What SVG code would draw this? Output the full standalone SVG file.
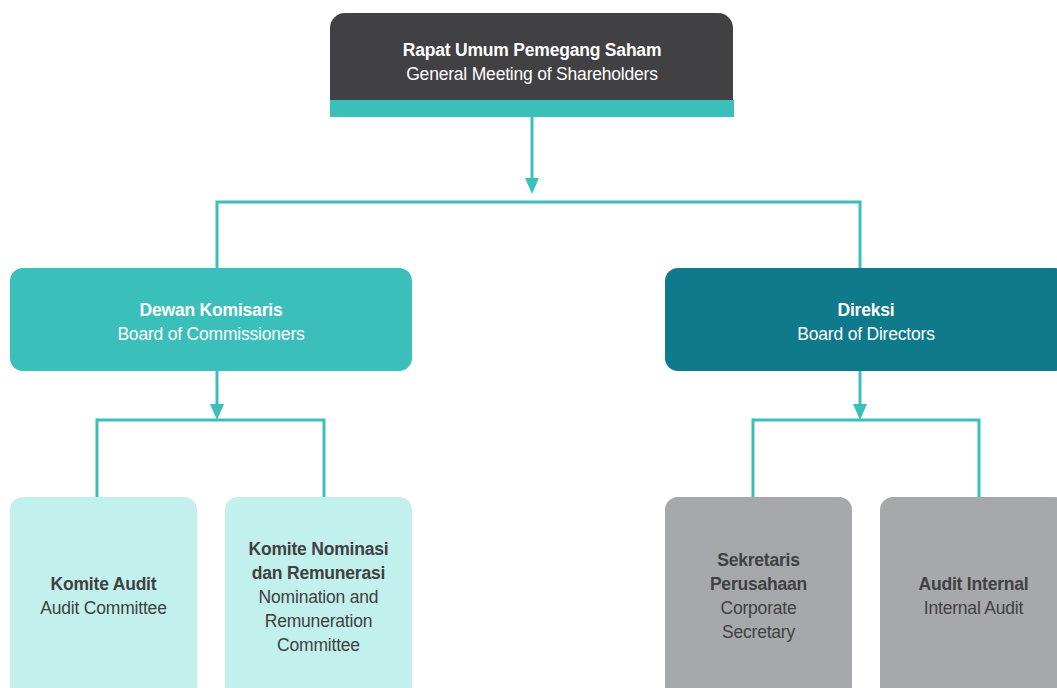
<svg xmlns="http://www.w3.org/2000/svg" width="1057" height="688" viewBox="0 0 1057 688">
  <defs>
    <style>
      text { font-family: "Liberation Sans", Arial, sans-serif; font-size: 17.5px; text-anchor: middle; letter-spacing: -0.2px; }
      .b { font-weight: bold; }
      .light { fill: #ffffff; }
      .darktxt { fill: #414042; }
      .conn { fill: none; stroke: #3bbfbb; stroke-width: 3; }
      .head { fill: #3bbfbb; }
    </style>
  </defs>
  <rect width="1057" height="688" fill="#ffffff"/>

  <!-- connectors -->
  <g id="connectors">
    <path class="conn" d="M532,117 V178"/>
    <path class="head" d="M525,178 L539,178 L532,194 Z"/>
    <path class="conn" d="M217,268 V202 H860 V268"/>
    <path class="conn" d="M217,371 V404"/>
    <path class="head" d="M210,404 L224,404 L217,420 Z"/>
    <path class="conn" d="M97,497 V420 H324 V497"/>
    <path class="conn" d="M860,371 V404"/>
    <path class="head" d="M853,404 L867,404 L860,420 Z"/>
    <path class="conn" d="M753,497 V420 H979 V497"/>
  </g>

  <!-- general meeting of shareholders -->
  <g id="rups">
    <path d="M345,13 H718 A15,15 0 0 1 733,28 V100 H330 V28 A15,15 0 0 1 345,13 Z" fill="#414042"/>
    <rect x="330" y="100" width="404" height="17" fill="#3bbfbb"/>
    <text class="b light" x="532" y="56">Rapat Umum Pemegang Saham</text>
    <text class="light" x="532" y="80">General Meeting of Shareholders</text>
  </g>

  <!-- board of commissioners -->
  <g id="dewan-komisaris">
    <rect x="10" y="268" width="402" height="103" rx="13" fill="#3bbfbb"/>
    <text class="b light" x="211" y="316">Dewan Komisaris</text>
    <text class="light" x="211" y="340">Board of Commissioners</text>
  </g>

  <!-- board of directors -->
  <g id="direksi">
    <rect x="665" y="268" width="402" height="103" rx="13" fill="#0e7a8c"/>
    <text class="b light" x="866" y="316">Direksi</text>
    <text class="light" x="866" y="340">Board of Directors</text>
  </g>

  <!-- audit committee -->
  <g id="komite-audit">
    <rect x="10" y="497" width="187" height="210" rx="13" fill="#c2f0ec"/>
    <text class="b darktxt" x="103.5" y="590">Komite Audit</text>
    <text class="darktxt" x="103.5" y="614">Audit Committee</text>
  </g>

  <!-- nomination and remuneration committee -->
  <g id="komite-nominasi">
    <rect x="225" y="497" width="187" height="210" rx="13" fill="#c2f0ec"/>
    <text class="b darktxt" x="318.5" y="555">Komite Nominasi</text>
    <text class="b darktxt" x="318.5" y="579">dan Remunerasi</text>
    <text class="darktxt" x="318.5" y="603">Nomination and</text>
    <text class="darktxt" x="318.5" y="627">Remuneration</text>
    <text class="darktxt" x="318.5" y="651">Committee</text>
  </g>

  <!-- corporate secretary -->
  <g id="sekretaris-perusahaan">
    <rect x="665" y="497" width="187" height="210" rx="13" fill="#a7a8ab"/>
    <text class="b darktxt" x="758.5" y="566">Sekretaris</text>
    <text class="b darktxt" x="758.5" y="590">Perusahaan</text>
    <text class="darktxt" x="758.5" y="614">Corporate</text>
    <text class="darktxt" x="758.5" y="638">Secretary</text>
  </g>

  <!-- internal audit -->
  <g id="audit-internal">
    <rect x="880" y="497" width="187" height="210" rx="13" fill="#a7a8ab"/>
    <text class="b darktxt" x="973.5" y="590">Audit Internal</text>
    <text class="darktxt" x="973.5" y="614">Internal Audit</text>
  </g>
</svg>
